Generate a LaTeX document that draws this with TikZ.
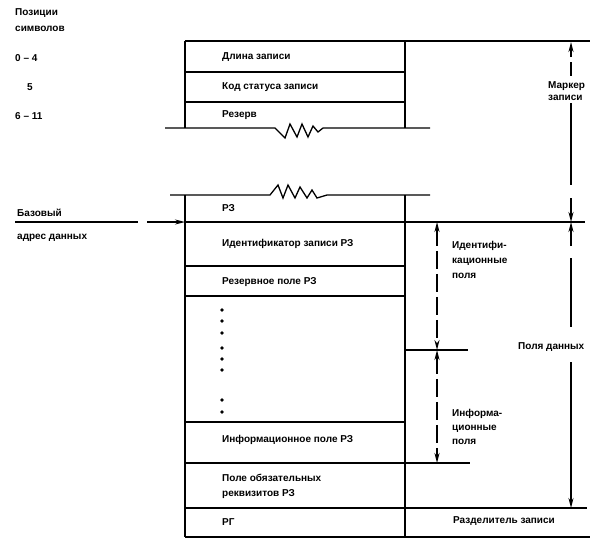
\documentclass[tikz,border=0pt]{standalone}
\usepackage{fontspec}
\setmainfont{Liberation Sans}
\usetikzlibrary{arrows.meta}
\begin{document}
\begin{tikzpicture}[x=1pt,y=-1pt,
  lbl/.style={anchor=west,inner sep=0pt,align=left,font=\bfseries\fontsize{10}{15}\selectfont},
  hline/.style={line width=1.3pt},
  vline/.style={line width=2.3pt},
  dim/.style={line width=1.6pt},
  tipend/.style={-{Stealth[length=10pt,width=5pt]}},
  tipboth/.style={{Stealth[length=10pt,width=5pt]}-{Stealth[length=10pt,width=5pt]}},
  dashy/.style={dash pattern=on 18pt off 5pt},
  dotmark/.style={fill=black,draw=none}
  ]
\useasboundingbox (0,0) rectangle (604,549);
% ---------- upper part ----------
\draw[hline] (185,41) -- (590,41);
\draw[hline] (185,72) -- (405,72);
\draw[hline] (185,102) -- (405,102);
\draw[hline] (165,128) -- (275,128) -- (285,138) -- (290,124) -- (297,137) -- (302,124) -- (308,137) -- (313,126) -- (318,132) -- (323,128) -- (430,128);
\draw[vline] (185,41) -- (185,128);
\draw[vline] (405,41) -- (405,128);
% ---------- lower part ----------
\draw[hline] (170,195) -- (270,195) -- (278,185) -- (283,198) -- (288,185) -- (295,198) -- (300,187) -- (307,198) -- (312,190) -- (317,198) -- (327,195) -- (430,195);
\draw[hline] (185,222) -- (585,222);
\draw[hline] (185,266) -- (405,266);
\draw[hline] (185,296) -- (405,296);
\draw[hline] (405,350) -- (468,350);
\draw[hline] (185,422) -- (405,422);
\draw[hline] (185,463) -- (470,463);
\draw[hline] (185,508) -- (587,508);
\draw[hline] (185,537) -- (590,537);
\draw[vline] (185,195) -- (185,537);
\draw[vline] (405,195) -- (405,537);
% ---------- base address ----------
\draw[hline] (15,222) -- (138,222);
\coordinate (baseL) at (147,222);
\coordinate (baseR) at (185,222);
\draw[hline,tipend] (baseL) -- (baseR);
% ---------- texts left ----------
\node[lbl] (p1) at (15,13) {Позиции};
\node[lbl] (p2) at (15,29) {символов};
\node[lbl] (p3) at (15,58) {0 – 4};
\node[lbl] (p4) at (27,87) {5};
\node[lbl] (p5) at (15,116) {6 – 11};
\node[lbl] (b1) at (17,213) {Базовый};
\node[lbl] (b2) at (17,238) {адрес данных};
% ---------- texts in boxes ----------
\node[lbl] (f1) at (222,57) {Длина записи};
\node[lbl] (f2) at (222,87) {Код статуса записи};
\node[lbl] (f3) at (222,115) {Резерв};
\node[lbl] (f4) at (222,208) {РЗ};
\node[lbl] (f5) at (222,244) {Идентификатор записи РЗ};
\node[lbl] (f6) at (222,282) {Резервное поле РЗ};
\node[lbl] (f7) at (222,440) {Информационное поле РЗ};
\node[lbl] (f8) at (222,486) {Поле обязательных\\реквизитов РЗ};
\node[lbl] (f9) at (222,522) {РГ};
\foreach \yy in {310,321,333,348,359,370,400,412}
  \fill[dotmark] (222,\yy) circle (1.9);
% ---------- right labels ----------
\node[lbl,font=\bfseries\fontsize{10}{12.5}\selectfont] (r1) at (548,91) {Маркер\\записи};
\node[lbl] (r2) at (452,260) {Идентифи-\\кационные\\поля};
\node[lbl] (r3) at (518,347) {Поля данных};
\node[lbl,font=\bfseries\fontsize{10}{14}\selectfont] (r4) at (452,427) {Информа-\\ционные\\поля};
\node[lbl] (r5) at (453,521) {Разделитель записи};
% ---------- dimension lines ----------
\coordinate (m1) at (571,42);
\coordinate (m2) at (571,222);
\coordinate (m3) at (571,508);
\draw[dim,tipend] (571,57) -- (m1);
\draw[dim] (571,62) -- (571,76);
\draw[dim] (571,103) -- (571,185);
\draw[dim,tipend] (571,198) -- (m2);
\draw[dim,tipend] (571,246) -- (m2);
\draw[dim] (571,258) -- (571,327);
\draw[dim,tipend] (571,362) -- (m3);
\coordinate (i1) at (437,222);
\coordinate (i2) at (437,350);
\coordinate (i3) at (437,463);
\draw[dim,dashy,tipboth] (i1) -- (i2);
\draw[dim,dashy,tipboth] (i2) -- (i3);
\end{tikzpicture}
\end{document}
